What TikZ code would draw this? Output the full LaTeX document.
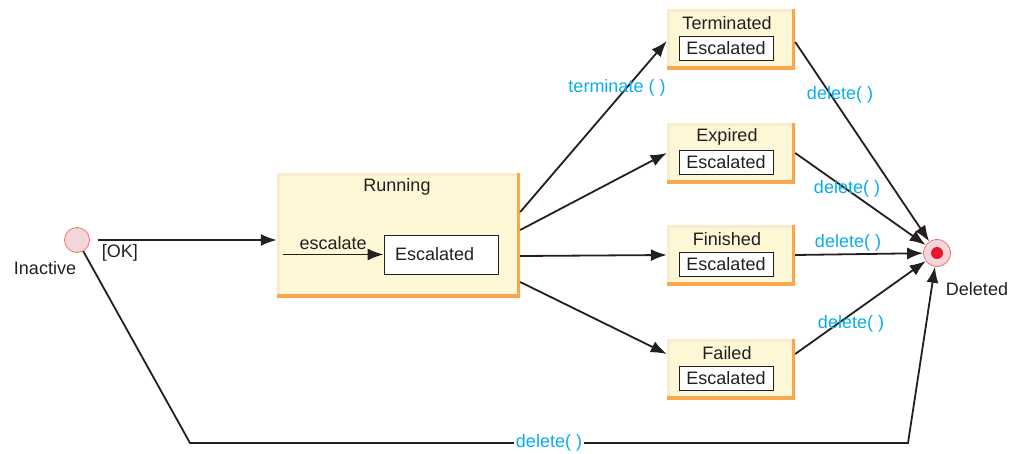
\documentclass[tikz,border=0pt]{standalone}
\usepackage{fontspec}
\setmainfont{Liberation Sans}
\usepackage{tikz}
\usetikzlibrary{calc}
\usetikzlibrary{arrows.meta}
\definecolor{stfill}{RGB}{254,247,214}
\definecolor{stlight}{RGB}{249,236,204}
\definecolor{stdark}{RGB}{247,168,78}
\definecolor{pseudofill}{RGB}{243,214,217}
\definecolor{pseudoline}{RGB}{238,118,108}
\definecolor{dotred}{RGB}{232,22,42}
\definecolor{callblue}{RGB}{10,172,236}
\definecolor{ink}{RGB}{35,31,32}

\begin{document}
\begin{tikzpicture}[x=1pt, y=-1pt, font=\fontsize{18}{20}\selectfont, text=ink,
  statebox/.style={fill=stfill, inner sep=0pt, path picture={
    \draw[line width=6pt, stlight] (path picture bounding box.south west) -- (path picture bounding box.north west) -- (path picture bounding box.north east);
    \draw[line width=6pt, stdark] (path picture bounding box.north east) -- (path picture bounding box.south east) -- (path picture bounding box.south west);}},
  escbox/.style={draw=ink, fill=white, line width=0.9pt, inner sep=0pt},
  flow/.style={draw=ink, line width=1.8pt, -{Latex[length=16pt, width=12pt]}},
  call/.style={text=callblue}]

\useasboundingbox (0,0) rectangle (1015,453);

\node[circle, draw=pseudoline, fill=pseudofill, line width=0.8pt, minimum size=25pt, inner sep=0pt] (ina) at (77,240) {};
\node (inalbl) at (45,268) {Inactive};

\node[statebox, minimum width=243pt, minimum height=124pt] (run) at (398.5,235) {};
\node (runlbl) at (397,187) {Running};
\node[escbox, minimum width=114pt, minimum height=39pt, text width=92pt, inner xsep=11pt, align=left] (runesc) at (441,254.5) {Escalated};

\foreach \n/\t/\y in {term/Terminated/39, expi/Expired/153, fini/Finished/255, fail/Failed/369} {
  \node[statebox, minimum width=128pt, minimum height=60pt] (\n) at (731,\y) {};
  \node (\n lbl) at (727,\y-16) {\t};
  \node[escbox, minimum width=94pt, minimum height=24pt] (\n esc) at (726,\y+9) {Escalated};
}

\node[circle, draw=pseudoline, fill=pseudofill, line width=0.8pt, minimum size=27pt, inner sep=0pt] (del) at (937,253) {};
\fill[dotred] (del) circle (6);
\node (dellbl) at (977,289) {Deleted};

\draw[flow] ([xshift=8pt]ina.east) -- (ina.east -| run.west) node[pos=0.1, below, xshift=4pt] {[OK]};
\draw[flow] ([xshift=6pt]run.west |- runesc.west) -- (runesc.west) node[midway, above, yshift=1pt] {escalate};

\draw[flow] ([yshift=23pt]run.east) -- ([yshift=-2pt]term.west);
\draw[flow] ([yshift=5pt]run.east) -- (expi.west);
\draw[flow] ([yshift=-21pt]run.east) -- (fini.west);
\draw[flow] ([yshift=-47pt]run.east) -- ([yshift=15pt]fail.west);
\node[call] (termcall) at (617,88) {terminate ( )};

\draw[flow] ([yshift=-3pt]term.east) -- (del);
\draw[flow] (expi.east) -- (del);
\draw[flow] (fini.east) -- (del);
\draw[flow] ([yshift=15pt]fail.east) -- (del);
\node[call] (delcall1) at (840,95) {delete( )};
\node[call] (delcall2) at (847,189) {delete( )};
\node[call] (delcall3) at (848,243) {delete( )};
\node[call] (delcall4) at (851,324) {delete( )};

\coordinate (botl) at (190,443);
\coordinate (botr) at (908,443);
\draw[flow] (ina) -- (botl) -- (botr) -- (del);
\node[call, fill=white, inner sep=2pt] (delcall5) at (549,443) {delete( )};

\end{tikzpicture}
\end{document}
